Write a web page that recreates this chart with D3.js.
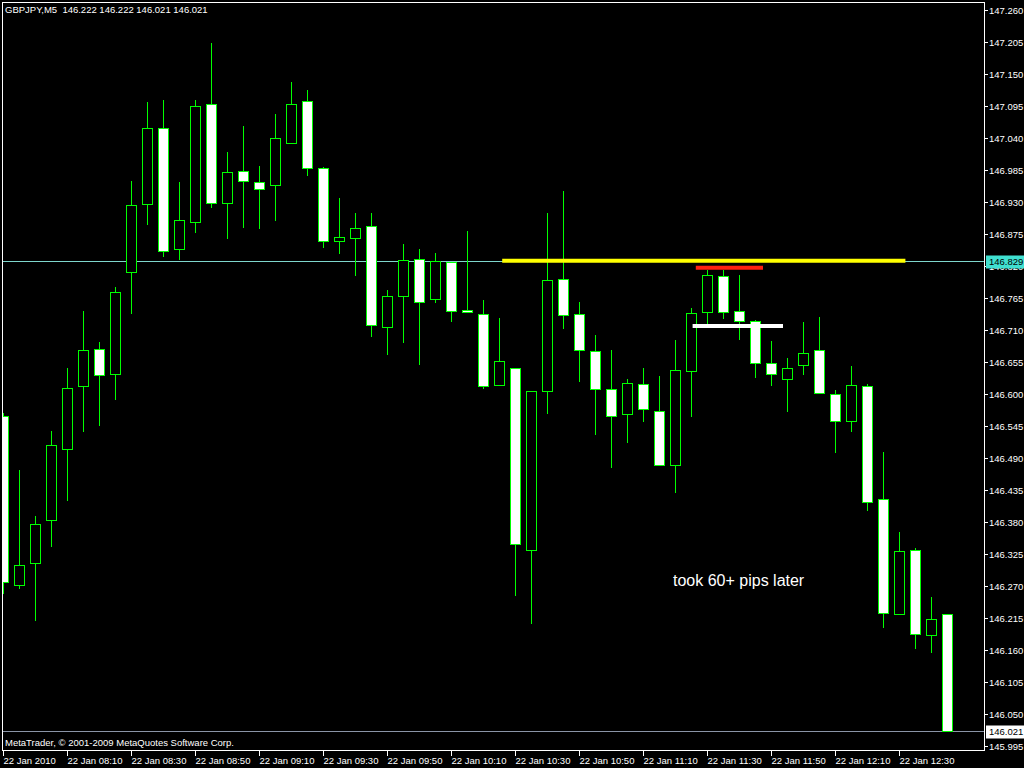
<!DOCTYPE html>
<html>
<head>
<meta charset="utf-8">
<script src="https://cdn.jsdelivr.net/npm/d3@7"></script>
<style>
  body { margin: 0; background: #000; }
  text { font-family: "Liberation Sans", Arial, sans-serif; }
</style>
</head>
<body>
<svg id="chart" width="1024" height="768"></svg>
<script>
// GBPJPY M5 bars, 22 Jan 2010 07:50 .. 12:45
const opens  = [146.563,146.272,146.309,146.383,146.505,146.614,146.677,146.634,146.810,146.926,
                147.057,146.849,146.896,147.098,146.928,146.983,146.964,146.959,147.031,147.104,
                146.988,146.863,146.869,146.889,146.716,146.769,146.832,146.764,146.827,146.744,
                146.737,146.615,146.645,146.332,146.605,146.798,146.737,146.674,146.608,146.565,
                146.617,146.571,146.478,146.640,146.741,146.803,146.743,146.725,146.653,146.626,
                146.650,146.675,146.600,146.553,146.614,146.419,146.222,146.332,146.186,146.222];
const highs  = [146.568,146.470,146.391,146.537,146.645,146.743,146.690,146.784,146.967,147.102,
                147.106,146.965,147.106,147.204,147.016,147.061,146.992,147.082,147.137,147.123,
                146.990,146.937,146.912,146.912,146.779,146.858,146.850,146.843,146.827,146.881,
                146.762,146.731,146.645,146.605,146.912,146.949,146.759,146.702,146.676,146.626,
                146.645,146.631,146.693,146.748,146.814,146.814,146.805,146.727,146.691,146.662,
                146.724,146.733,146.607,146.649,146.618,146.501,146.363,146.335,146.251,146.222];
const lows   = [146.258,146.266,146.212,146.338,146.417,146.536,146.546,146.591,146.740,146.893,
                146.838,146.833,146.879,146.922,146.869,146.888,146.886,146.900,147.031,146.976,
                146.852,146.843,146.804,146.699,146.668,146.689,146.652,146.759,146.725,146.741,
                146.610,146.615,146.254,146.207,146.567,146.713,146.623,146.532,146.475,146.517,
                146.554,146.478,146.431,146.563,146.721,146.731,146.694,146.630,146.615,146.570,
                146.635,146.602,146.501,146.537,146.401,146.199,146.222,146.163,146.157,146.021];
const closes = [146.277,146.306,146.376,146.512,146.610,146.675,146.632,146.775,146.925,147.057,
                146.846,146.899,147.096,146.928,146.982,146.966,146.952,147.040,147.098,146.988,
                146.863,146.870,146.885,146.718,146.768,146.830,146.759,146.829,146.742,146.741,
                146.613,146.657,146.342,146.605,146.796,146.736,146.675,146.608,146.562,146.619,
                146.574,146.478,146.641,146.739,146.804,146.741,146.725,146.653,146.634,146.645,
                146.670,146.602,146.553,146.615,146.414,146.223,146.330,146.187,146.213,146.021];

const priceTicks = [147.260,147.205,147.150,147.095,147.040,146.985,146.930,146.875,146.820,146.765,
                    146.710,146.655,146.600,146.545,146.490,146.435,146.380,146.325,146.270,146.215,
                    146.160,146.105,146.050,145.995];
const timeTickBars = [0,4,8,12,16,20,24,28,32,36,40,44,48,52,56];
const timeTickLabels = ["22 Jan 2010","22 Jan 08:10","22 Jan 08:30","22 Jan 08:50","22 Jan 09:10",
                        "22 Jan 09:30","22 Jan 09:50","22 Jan 10:10","22 Jan 10:30","22 Jan 10:50",
                        "22 Jan 11:10","22 Jan 11:30","22 Jan 11:50","22 Jan 12:10","22 Jan 12:30"];

// drawn horizontal lines: bar index from/to, price
const hLines = [
  {from: 31.2, to: 56.4, price: 146.829, color: "#ffff00"},
  {from: 43.3, to: 47.5, price: 146.817, color: "#ff2010"},
  {from: 43.1, to: 48.75, price: 146.717, color: "#ffffff"}
];
const bidPrice = 146.829;
const lastPrice = 146.021;

const frame = {left: 2, top: 2, right: 984, bottom: 750};

const svg = d3.select("#chart");

svg.append("rect")
  .attr("width", 1024).attr("height", 768)
  .attr("fill", "#000");

let x = d3.scaleLinear().domain([0, 59]).range([3, 947]);
let y = d3.scaleLinear().domain([145.988, 147.274]).range([frame.bottom, frame.top]);

const px = v => Math.round(v) + 0.5;

svg.append("clipPath").attr("id", "plot")
  .append("rect")
  .attr("x", frame.left).attr("y", frame.top)
  .attr("width", frame.right - frame.left).attr("height", frame.bottom - frame.top);

const plot = svg.append("g").attr("clip-path", "url(#plot)");

drawLines()
drawCandles()
drawAxes()
drawTexts()

function drawLines(){
  // bid / last price lines
  plot.append("line")
    .attr("x1", frame.left).attr("x2", frame.right)
    .attr("y1", px(y(lastPrice))).attr("y2", px(y(lastPrice)))
    .attr("stroke", "#8a94a6").attr("stroke-width", 1);

  plot.append("line")
    .attr("x1", frame.left).attr("x2", frame.right)
    .attr("y1", px(y(bidPrice))).attr("y2", px(y(bidPrice)))
    .attr("stroke", "#7ed6cc").attr("stroke-width", 1);
}

function drawCandles(){
  let bars = d3.range(opens.length).map(i => ({
    i: i, o: opens[i], h: highs[i], l: lows[i], c: closes[i]
  }));

  let g = plot.selectAll("g.bar")
    .data(bars)
    .join("g")
      .attr("class", "bar");

  g.append("line")
    .attr("x1", d => px(x(d.i)))
    .attr("x2", d => px(x(d.i)))
    .attr("y1", d => Math.round(y(d.h)))
    .attr("y2", d => Math.round(y(d.l)) + 1)
    .attr("stroke", "#00ff00");

  g.append("rect")
    .attr("x", d => Math.round(x(d.i)) - 4.5)
    .attr("width", 10)
    .attr("y", d => px(y(Math.max(d.o, d.c))))
    .attr("height", d => Math.max(1, Math.round(y(Math.min(d.o, d.c))) - Math.round(y(Math.max(d.o, d.c)))))
    .attr("fill", d => d.c >= d.o ? "#000" : "#fff")
    .attr("stroke", "#00ff00")
    .attr("stroke-width", 1);

  // user drawn levels
  plot.selectAll("line.level")
    .data(hLines)
    .join("line")
      .attr("class", "level")
      .attr("x1", d => x(d.from))
      .attr("x2", d => x(d.to))
      .attr("y1", d => y(d.price))
      .attr("y2", d => y(d.price))
      .attr("stroke", d => d.color)
      .attr("stroke-width", 4);
}

function drawAxes(){
  svg.append("rect")
    .attr("x", frame.left + 0.5).attr("y", frame.top + 0.5)
    .attr("width", frame.right - frame.left).attr("height", frame.bottom - frame.top)
    .attr("fill", "none").attr("stroke", "#fff");

  // price scale
  let pt = svg.append("g").selectAll("g")
    .data(priceTicks)
    .join("g")
      .attr("transform", d => `translate(0, ${px(y(d))})`);

  pt.append("line")
    .attr("x1", frame.right + 0.5).attr("x2", frame.right + 4)
    .attr("stroke", "#fff");

  pt.append("text")
    .attr("x", frame.right + 5)
    .attr("dy", "0.35em")
    .attr("fill", "#fff")
    .style("font-size", "9.5px")
    .text(d => d.toFixed(3));

  // time scale
  let tt = svg.append("g").selectAll("g")
    .data(timeTickBars)
    .join("g")
      .attr("transform", d => `translate(${px(x(d))}, 0)`);

  tt.append("line")
    .attr("y1", frame.bottom + 0.5).attr("y2", frame.bottom + 6)
    .attr("stroke", "#fff");

  tt.append("text")
    .attr("x", 0)
    .attr("y", 764)
    .attr("fill", "#fff")
    .style("font-size", "9.5px")
    .text((d, i) => timeTickLabels[i]);

  // price labels
  let boxes = [
    {price: bidPrice, bg: "#40e0d0"},
    {price: lastPrice, bg: "#ffffff"}
  ];
  let b = svg.append("g").selectAll("g")
    .data(boxes)
    .join("g")
      .attr("transform", d => `translate(0, ${px(y(d.price))})`);

  b.append("rect")
    .attr("x", frame.right + 2).attr("y", -6)
    .attr("width", 38).attr("height", 13)
    .attr("fill", d => d.bg);

  b.append("text")
    .attr("x", frame.right + 5)
    .attr("dy", "0.35em")
    .attr("fill", "#000")
    .style("font-size", "9.5px")
    .text(d => d.price.toFixed(3));
}

function drawTexts(){
  svg.append("text")
    .attr("x", 5).attr("y", 13)
    .attr("fill", "#fff")
    .style("font-size", "9.5px")
    .attr("xml:space", "preserve")
    .style("white-space", "pre")
    .text("GBPJPY,M5  146.222 146.222 146.021 146.021");

  svg.append("text")
    .attr("x", 5).attr("y", 746)
    .attr("fill", "#fff")
    .style("font-size", "9.5px")
    .text("MetaTrader, © 2001-2009 MetaQuotes Software Corp.");

  svg.append("text")
    .attr("x", 673).attr("y", 586)
    .attr("fill", "#fff")
    .style("font-size", "16px")
    .text("took 60+ pips later");
}
</script>
</body>
</html>
